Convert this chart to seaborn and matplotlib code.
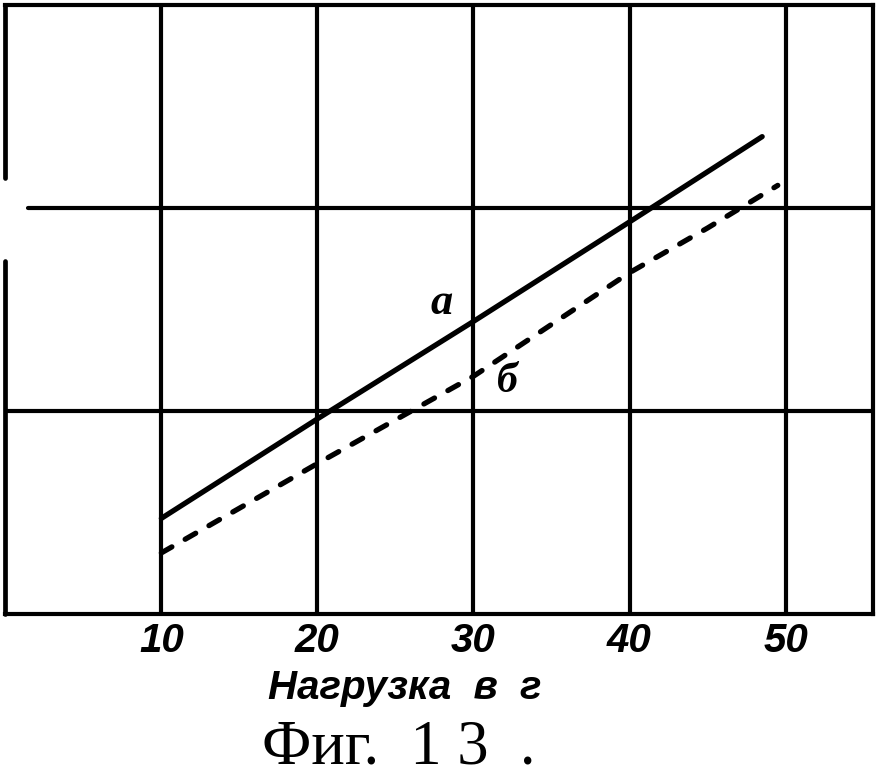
import pandas as pd
import seaborn as sns
import matplotlib.pyplot as plt

# load in grams and reading for the two curves
load_a = [10, 20, 30, 40, 48.5]
value_a = [0.47, 0.96, 1.44, 1.93, 2.35]
load_b = [10, 20, 30, 40, 45, 49.5]
value_b = [0.30, 0.74, 1.17, 1.68, 1.90, 2.11]
x_ticks = [10, 20, 30, 40, 50]
x_label = 'Нагрузка  в  г'
caption = 'Фиг.  1 3  .'


def main():
    sns.set_style('white')
    plt.rcParams['font.family'] = ['Liberation Sans', 'DejaVu Sans']
    plt.rcParams['text.color'] = 'black'
    plt.rcParams['xtick.color'] = 'black'

    df = pd.concat([
        pd.DataFrame({'load': load_a, 'value': value_a, 'curve': 'а'}),
        pd.DataFrame({'load': load_b, 'value': value_b, 'curve': 'б'}),
    ])

    fig = plt.figure(figsize=(8.8, 7.76), dpi=100)
    ax = fig.add_axes([0.006, 0.209, 0.986, 0.785])

    sns.lineplot(data=df, x='load', y='value', style='curve',
                 dashes={'а': '', 'б': (2.3, 2.9)}, color='black',
                 linewidth=3.8, legend=False, ax=ax, sort=False)
    for line in ax.get_lines():
        line.set_dash_capstyle('round')
        line.set_solid_capstyle('round')

    ax.set_xlim(0, 55.6)
    ax.set_ylim(0, 3)
    ax.set_xticks(x_ticks)
    ax.set_xticklabels([str(t) for t in x_ticks], fontsize=29,
                       fontweight='bold', fontstyle='italic')
    ax.set_yticks([])
    ax.tick_params(axis='x', length=0, pad=6)
    ax.set_xlabel('')
    ax.set_ylabel('')

    for x in x_ticks:
        ax.axvline(x, color='black', lw=3.0, zorder=1)
    ax.axhline(1, color='black', lw=3.0, zorder=1)
    ax.axhline(2, xmin=0.026, color='black', lw=3.0, zorder=1)

    for side in ['top', 'right', 'bottom']:
        ax.spines[side].set_color('black')
        ax.spines[side].set_linewidth(3.0)
    # left edge of the scan has a gap in it
    ax.spines['left'].set_visible(False)
    ax.axvline(0, ymin=0, ymax=0.58, color='black', lw=3.4, clip_on=False)
    ax.axvline(0, ymin=0.716, ymax=1, color='black', lw=3.4, clip_on=False)

    ax.text(27.95, 1.53, 'а', fontsize=32, fontstyle='italic',
            fontweight='bold', ha='center', va='center',
            family=['Liberation Serif', 'DejaVu Serif'])
    ax.text(32.2, 1.14, 'б', fontsize=30, fontstyle='italic',
            fontweight='bold', ha='center', va='center',
            family=['Liberation Serif', 'DejaVu Serif'])

    fig.text(0.46, 0.113, x_label, fontsize=29, fontweight='bold',
             fontstyle='italic', ha='center', va='center')
    fig.text(0.453, 0.036, caption, fontsize=45, ha='center', va='center',
             family=['Liberation Serif', 'DejaVu Serif'])

    fig.savefig('out.png', dpi=100)


if __name__ == '__main__':
    main()
